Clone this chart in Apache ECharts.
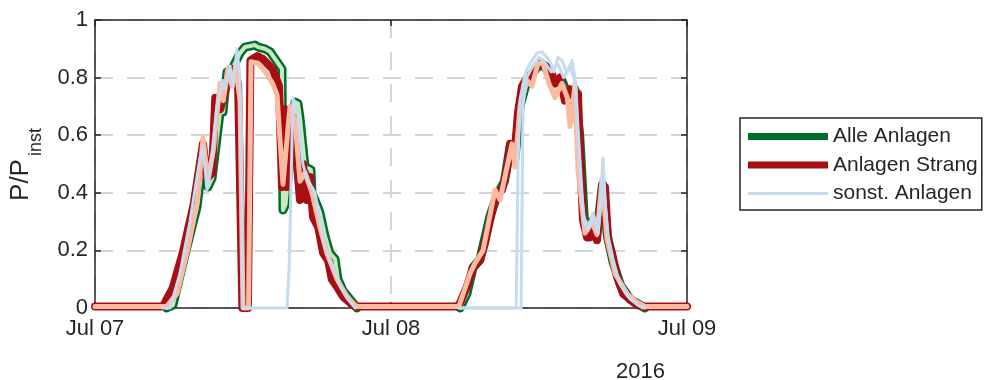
<!DOCTYPE html>
<html><head><meta charset="utf-8">
<script src="https://cdn.jsdelivr.net/npm/echarts@6/dist/echarts.min.js"></script>
<style>html,body{margin:0;padding:0;background:#fff}#c{width:985px;height:380px}</style>
</head><body><div id="c"></div>
<script>
// ---- data (x = hours since Jul 07 2016 00:00, y = P/P_inst) ----
const xTickHours = [0, 24, 48];
const xTickLabels = ['Jul 07', 'Jul 08', 'Jul 09'];
const yearLabel = '2016';
const yTicks = [0, 0.2, 0.4, 0.6, 0.8, 1];
const legendNames = ['Alle Anlagen', 'Anlagen Strang', 'sonst. Anlagen'];

const alleAnlagen = [[5.8,0],[6.32,0.01],[6.65,0.07],[7.5,0.22],[8.27,0.35],[8.75,0.52],[9.16,0.42],[9.49,0.45],[10.14,0.68],[10.38,0.68],[10.7,0.82],[11.11,0.83],[11.76,0.885],[12.16,0.906],[12.97,0.913],[13.22,0.906],[13.78,0.9],[14.19,0.89],[14.76,0.855],[15.16,0.83],[15.24,0.34],[15.45,0.36],[16.22,0.715],[16.46,0.71],[16.62,0.66],[17.03,0.49],[17.51,0.48],[17.59,0.4],[18.08,0.35],[18.24,0.33],[18.65,0.25],[19.05,0.19],[19.46,0.17],[19.7,0.1],[20.11,0.06],[20.68,0.03],[21.24,0],[25,null],[29.6,0],[30.16,0.05],[30.65,0.14],[31.22,0.17],[32.03,0.32],[32.6,0.39],[33.2,0.44],[33.65,0.56],[34.05,0.52],[34.46,0.7],[35.03,0.79],[35.92,0.84],[36.5,0.84],[37.3,0.76],[37.86,0.79],[38.5,0.72],[38.9,0.76],[39.3,0.6],[39.7,0.29],[40.3,0.3],[40.7,0.26],[41.15,0.43],[41.55,0.25],[42.0,0.16],[42.6,0.08],[43.4,0.03],[44.2,0.01],[44.6,0]];

const anlagenStrang = [[0,0.005],[5.5,0.005],[6.3,0.07],[7.1,0.19],[8.0,0.36],[8.75,0.57],[9.1,0.45],[9.5,0.47],[9.75,0.73],[10.15,0.69],[10.8,0.79],[11.2,0.83],[11.6,0.78],[11.95,0],[12.4,0],[12.6,0.86],[13.15,0.875],[13.6,0.865],[14.4,0.83],[14.75,0.79],[14.92,0.77],[15.16,0.42],[15.41,0.69],[15.57,0.42],[15.81,0.67],[16.05,0.66],[16.62,0.375],[16.86,0.5],[17.19,0.375],[17.43,0.455],[17.68,0.315],[18.1,0.28],[18.5,0.19],[18.9,0.165],[19.2,0.1],[19.6,0.075],[20.1,0.04],[20.7,0.017],[21.1,0.005],[29.35,0.005],[29.6,0.017],[30.16,0.075],[30.65,0.14],[31.22,0.165],[31.62,0.225],[32.03,0.305],[32.6,0.4],[33.0,0.41],[33.41,0.48],[33.65,0.57],[34.05,0.55],[34.3,0.68],[34.62,0.77],[35.03,0.8],[35.5,0.815],[36.08,0.855],[36.5,0.84],[36.9,0.83],[37.3,0.78],[37.7,0.8],[38.1,0.72],[38.5,0.76],[38.9,0.73],[39.16,0.745],[39.32,0.54],[39.57,0.305],[39.89,0.245],[40.14,0.245],[40.38,0.305],[40.7,0.235],[41.11,0.42],[41.35,0.42],[41.59,0.235],[41.92,0.19],[42.32,0.11],[42.81,0.05],[43.38,0.03],[43.95,0.01],[44.43,0.005],[48,0.005]];

const strangEinzel = [[0,0.005],[5.8,0.005],[6.65,0.05],[7.5,0.2],[8.3,0.37],[8.76,0.59],[9.16,0.44],[9.6,0.55],[10.14,0.78],[10.4,0.72],[10.78,0.83],[11.11,0.77],[11.4,0.84],[11.76,0.72],[12.0,0],[12.45,0],[12.65,0.855],[13.2,0.85],[13.8,0.82],[14.4,0.78],[14.76,0.74],[15.24,0.43],[15.81,0.7],[16.22,0.65],[16.62,0.44],[17.03,0.47],[17.59,0.4],[18.24,0.28],[18.81,0.19],[19.62,0.1],[20.43,0.04],[21.08,0.01],[21.3,0.005],[29.5,0.005],[30.41,0.12],[30.81,0.155],[31.46,0.2],[32.43,0.41],[32.84,0.375],[33.41,0.49],[33.81,0.57],[34.05,0.49],[34.46,0.7],[35.03,0.79],[35.43,0.77],[35.92,0.85],[36.33,0.85],[36.8,0.78],[37.3,0.73],[37.86,0.78],[38.3,0.73],[38.51,0.63],[38.76,0.71],[38.92,0.78],[39.16,0.48],[39.73,0.26],[40.3,0.3],[40.7,0.255],[41.11,0.445],[41.51,0.24],[42.16,0.12],[43.14,0.05],[43.95,0.02],[44.6,0.005],[48,0.005]];

const sonstA = [[5.5,0],[6.08,0],[6.89,0.12],[7.7,0.3],[8.51,0.52],[8.76,0.56],[9.08,0.41],[9.49,0.52],[9.89,0.7],[10.38,0.79],[10.54,0.76],[10.95,0.84],[11.19,0.77],[11.51,0.9],[11.76,0.8],[12.0,0],[15.57,0],[15.75,0.15],[16.05,0.73],[16.38,0.69],[16.86,0.5],[17.19,0.445],[17.59,0.42],[17.84,0.4],[18.24,0.3],[18.65,0.21],[19.3,0.14],[19.86,0.08],[20.5,0.03],[21.1,0],[25,null],[29.5,0],[34.15,0],[34.3,0.5],[34.45,0.72],[34.8,0.8],[35.03,0.83],[35.3,0.85],[35.84,0.885],[36.24,0.89],[36.65,0.87],[36.89,0.855],[37.2,0.82],[37.54,0.87],[37.86,0.86],[38.27,0.815],[38.68,0.86],[38.92,0.8],[39.2,0.6],[39.6,0.32],[40.0,0.28],[40.38,0.33],[40.8,0.27],[41.19,0.52],[41.4,0.35],[41.6,0.25],[42.0,0.17],[42.5,0.09],[43.2,0.04],[44.0,0.01],[44.6,0]];

const sonstB = [[29.5,0],[34.55,0],[34.7,0.7],[35.0,0.8],[35.5,0.84],[36.0,0.87],[36.5,0.85],[37.0,0.82],[37.5,0.85],[38.0,0.8],[38.5,0.84],[38.9,0.79],[39.2,0.55],[39.6,0.3],[40.0,0.27],[40.4,0.31],[40.8,0.26],[41.2,0.45],[41.6,0.24],[42.0,0.16],[42.6,0.08],[43.4,0.03],[44.4,0]];

// ---- chart ----
const FF = 'Liberation Sans, Arial, sans-serif';
const TC = '#262626';
const chart = echarts.init(document.getElementById('c'), null, {renderer: 'canvas'});

function axisBase(pos, showLabel, grid) {
  return {
    type: 'value', position: pos,
    axisLine: {show: true, onZero: false, lineStyle: {color: TC, width: 1.5}},
    axisTick: {show: true, inside: true, length: 6, lineStyle: {color: TC, width: 1.5}},
    splitLine: {show: grid, lineStyle: {color: '#d6d6d6', width: 2, type: [18, 14]}},
    axisLabel: {show: showLabel, fontSize: 22, color: TC, fontFamily: FF}
  };
}
const xb = axisBase('bottom', true, true);
Object.assign(xb, {min: 0, max: 48, interval: 24});
xb.axisLabel.margin = 10;
xb.axisLabel.formatter = v => xTickLabels[xTickHours.indexOf(v)] || '';
const xt = axisBase('top', false, false);
Object.assign(xt, {min: 0, max: 48, interval: 24});
const yl = axisBase('left', true, true);
Object.assign(yl, {min: 0, max: 1, interval: 0.2});
yl.axisLabel.margin = 7;
yl.axisLabel.formatter = v => String(Math.round(v * 10) / 10);
const yr = axisBase('right', false, false);
Object.assign(yr, {min: 0, max: 1, interval: 0.2});

function line(name, data, color, width) {
  return {name, type: 'line', data, xAxisIndex: 0, yAxisIndex: 0, showSymbol: false, symbol: 'none',
    clip: false, connectNulls: false, lineStyle: {color, width, join: 'round', cap: 'round'},
    itemStyle: {color}, emphasis: {disabled: true}};
}

const thick = 'path://M0,0H80V7H0Z';
const thin = 'path://M0,0H80V3H0Z';

chart.setOption({
  animation: false,
  grid: {left: 95, right: 298, top: 20, bottom: 72},
  title: {text: yearLabel, left: 616, top: 361, padding: 0,
    textStyle: {fontSize: 22, fontWeight: 'normal', color: TC, fontFamily: FF}},
  legend: {
    data: [{name: legendNames[0], icon: thick}, {name: legendNames[1], icon: thick}, {name: legendNames[2], icon: thin}],
    orient: 'vertical', left: 740, top: 118, padding: [8, 4, 6, 8],
    itemWidth: 80, itemHeight: 22, itemGap: 7.5, borderColor: TC, borderWidth: 1.5,
    symbolKeepAspect: true, selectedMode: false,
    textStyle: {fontSize: 21, color: TC, fontFamily: FF}},
  xAxis: [xb, xt],
  yAxis: [yl, yr],
  graphic: [
    {type: 'text', x: 21, y: 180, rotation: Math.PI / 2,
      style: {text: 'P/P', fontSize: 26, fontFamily: FF, fill: TC, align: 'center', verticalAlign: 'middle'}},
    {type: 'text', x: 36, y: 142, rotation: Math.PI / 2,
      style: {text: 'inst', fontSize: 18, fontFamily: FF, fill: TC, align: 'center', verticalAlign: 'middle'}}
  ],
  series: [
    line('Alle Anlagen', alleAnlagen, '#006d2c', 9),
    line('Alle Anlagen (einzeln)', alleAnlagen, '#c7e9c0', 4),
    line('Anlagen Strang', anlagenStrang, '#a50f15', 8),
    line('Anlagen Strang (einzeln)', strangEinzel, '#fcbba1', 5),
    line('sonst. Anlagen', sonstA, '#c6dbef', 3),
    line('sonst. Anlagen', sonstB, '#c6dbef', 3)
  ]
});
</script></body></html>
